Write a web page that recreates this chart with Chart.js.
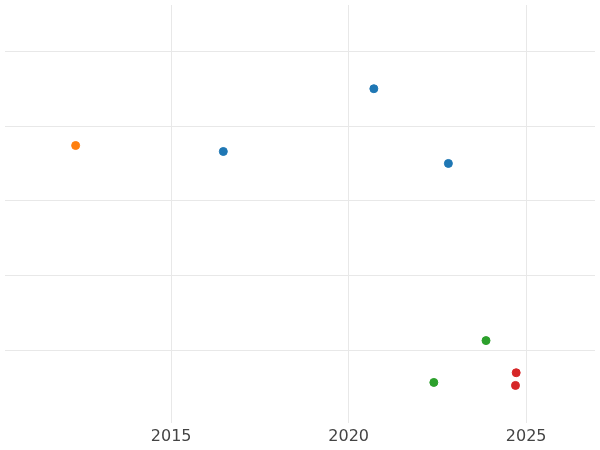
<!DOCTYPE html>
<html><head><meta charset="utf-8">
<script src="https://cdn.jsdelivr.net/npm/chart.js@4"></script>
<style>html,body{margin:0;background:#fff}#wrap{width:600px;height:450px}</style>
</head><body><div id="wrap"><canvas id="c"></canvas></div>
<script>
const xTicks = [2015, 2020, 2025];
const yTicks = [1, 2, 3, 4, 5];
const orangeX = [2012.31], orangeY = [3.74];
const blueX = [2016.47, 2020.71, 2022.81], blueY = [3.66, 4.5, 3.5];
const greenX = [2023.87, 2022.40], greenY = [1.13, 0.57];
const redX = [2024.72, 2024.70], redY = [0.70, 0.53];

const pts = (xs, ys) => xs.map((x, i) => ({x: x, y: ys[i]}));
const ds = (xs, ys, col) => ({data: pts(xs, ys), backgroundColor: col, borderColor: col, pointRadius: 4, pointHoverRadius: 4});

new Chart(document.getElementById('c'), {
  type: 'scatter',
  data: {datasets: [
    ds(blueX, blueY, '#1f77b4'),
    ds(orangeX, orangeY, '#ff7f0e'),
    ds(greenX, greenY, '#2ca02c'),
    ds(redX, redY, '#d62728')
  ]},
  options: {
    animation: false, maintainAspectRatio: false,
    layout: {padding: {left: -5, right: -5, top: -5, bottom: 0}},
    plugins: {legend: {display: false}, tooltip: {enabled: false}},
    scales: {
      x: {min: 2010.32, max: 2026.94,
        afterBuildTicks: s => { s.ticks = xTicks.map(v => ({value: v})); },
        grid: {color: '#e8e8e8', drawTicks: false}, border: {display: false},
        ticks: {color: '#444', font: {size: 16, family: 'DejaVu Sans'}, padding: 4,
          callback: v => String(v)}},
      y: {min: 0.03, max: 5.62,
        afterBuildTicks: s => { s.ticks = yTicks.map(v => ({value: v})); },
        grid: {color: '#e8e8e8', drawTicks: false}, border: {display: false},
        ticks: {display: false}}
    }
  }
});
</script></body></html>
